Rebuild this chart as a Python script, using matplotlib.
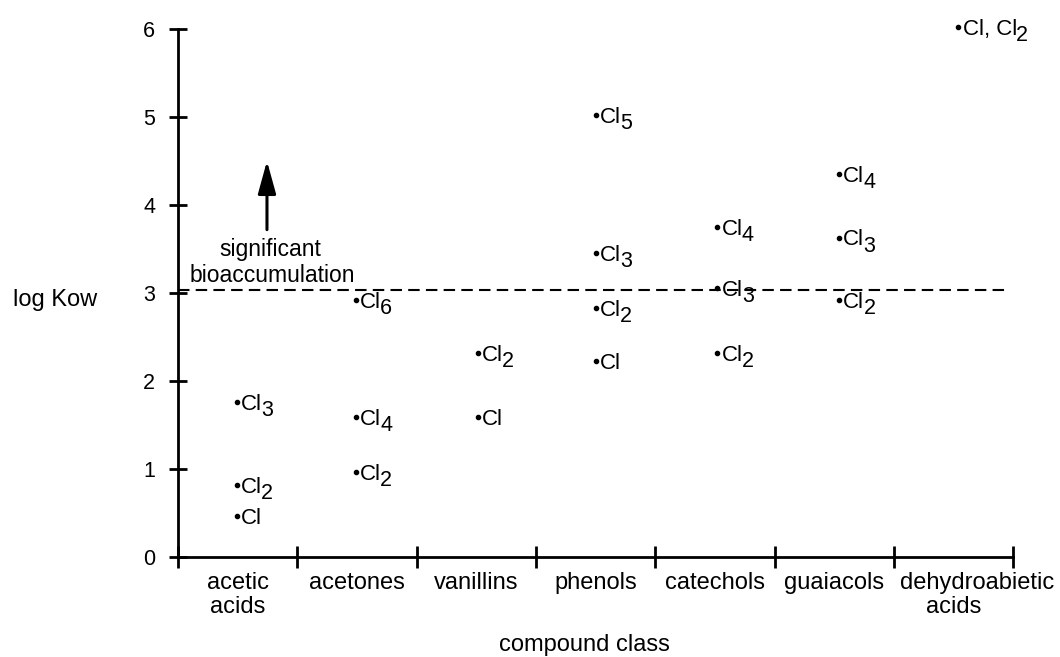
import numpy as np
import matplotlib
matplotlib.use("Agg")
import matplotlib.pyplot as plt
from matplotlib.transforms import ScaledTranslation

plt.rcParams['font.family'] = ['Liberation Sans', 'DejaVu Sans']

# data
categories = ['acetic\nacids', 'acetones', 'vanillins', 'phenols',
              'catechols', 'guaiacols', 'dehydroabietic\nacids']
point_class = [0, 0, 0, 1, 1, 1, 2, 2, 3, 3, 3, 3, 4, 4, 4, 5, 5, 5, 6]
log_kow = [1.76, 0.82, 0.47, 2.92, 1.59, 0.97, 2.32, 1.59,
           5.02, 3.45, 2.83, 2.23, 3.75, 3.06, 2.32, 4.35, 3.63, 2.92, 6.02]
point_names = ['Cl', 'Cl', 'Cl', 'Cl', 'Cl', 'Cl', 'Cl', 'Cl', 'Cl', 'Cl',
               'Cl', 'Cl', 'Cl', 'Cl', 'Cl', 'Cl', 'Cl', 'Cl', 'Cl, Cl']
point_subs = ['3', '2', '', '6', '4', '2', '2', '', '5', '3', '2', '',
              '4', '3', '2', '4', '3', '2', '2']
threshold = 3.03
yticks = [0, 1, 2, 3, 4, 5, 6]

# small shift of the dots inside each class column
class_shift = [-0.01, -0.01, 0.01, 0.0, 0.02, 0.04, 0.04]

fig = plt.figure(figsize=(10.6, 6.57), dpi=100)
ax = fig.add_axes([0.168, 0.152, 0.788, 0.804])

xs = np.array(point_class) + 0.5 + np.array(class_shift)[point_class]
ax.scatter(xs, log_kow, s=9, color='black', zorder=3, clip_on=False)
for x, y, name, sub in zip(xs, log_kow, point_names, point_subs):
    t = ax.annotate(name, (x, y), xytext=(3, -5.6), textcoords='offset points',
                    ha='left', va='baseline', fontsize=16, annotation_clip=False)
    if sub:
        ax.annotate(sub, xy=(1, 0.5), xycoords=t, xytext=(-0.5, -4.5),
                    textcoords='offset points', ha='left', va='center',
                    fontsize=15.5)

ax.axhline(threshold, xmin=0, xmax=6.93 / 7, color='black', lw=1.5,
           ls=(0, (5.5, 3)))

# arrow + note
ax.annotate('', xy=(0.745, 4.50), xytext=(0.745, 3.72),
            arrowprops=dict(arrowstyle='-|>,head_width=0.55,head_length=2.0',
                            color='black', lw=2.2, shrinkA=0, shrinkB=0))
ax.text(0.77, 3.42, 'significant', ha='center', va='baseline', fontsize=16.5)
ax.text(0.79, 3.12, 'bioaccumulation', ha='center', va='baseline', fontsize=16.5)

ax.set_xlim(0, 7)
ax.set_ylim(0, 6)
for s in ['top', 'right']:
    ax.spines[s].set_visible(False)
for s in ['left', 'bottom']:
    ax.spines[s].set_linewidth(2)

ax.set_yticks(yticks)
ax.tick_params(axis='y', direction='inout', length=13, width=2,
               labelsize=15.5, pad=10)
ax.set_xticks(np.arange(0, 8))
ax.set_xticklabels([])
ax.tick_params(axis='x', which='major', direction='inout', length=16, width=2)
ax.set_xticks(np.arange(7) + 0.5, minor=True)
labels = categories[:-1] + [categories[-1] + ' ' * 7]
ax.set_xticklabels(labels, minor=True, fontsize=17, linespacing=1.1)
ax.tick_params(axis='x', which='minor', length=0, pad=11)
last = ax.get_xticklabels(minor=True)[-1]
last.set_transform(last.get_transform() + ScaledTranslation(23 / 100, 0, fig.dpi_scale_trans))

ax.set_xlabel('compound class', fontsize=17, va='baseline')
ax.xaxis.set_label_coords(0.487, -0.178)
ax.set_ylabel('log Kow', rotation=0, fontsize=17, ha='center', va='center')
ax.yaxis.set_label_coords(-0.147, 0.487)

fig.savefig('out.png', dpi=100)
